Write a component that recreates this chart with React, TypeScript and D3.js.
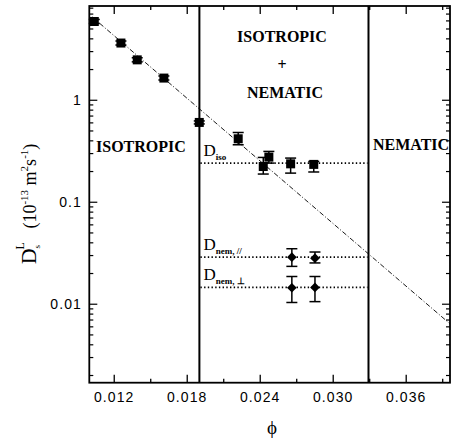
import { useEffect, useRef } from "react";
import * as d3 from "d3";

// isotropic self-diffusion (squares)
const phiIso = [0.01036, 0.01255, 0.01389, 0.01608, 0.01899, 0.02219, 0.02425, 0.02471, 0.0265, 0.0284];
const dIso = [5.92, 3.64, 2.49, 1.65, 0.606, 0.419, 0.224, 0.277, 0.238, 0.235];
const dIsoHi = [6.2, 3.81, 2.61, 1.73, 0.627, 0.483, 0.275, 0.315, 0.271, 0.251];
const dIsoLo = [5.66, 3.48, 2.38, 1.58, 0.586, 0.366, 0.189, 0.242, 0.193, 0.198];

// nematic components (diamonds)
const phiNem = [0.0266, 0.0285];
const dNemPar = [0.0289, 0.0283];
const dNemParHi = [0.035, 0.0325];
const dNemParLo = [0.0235, 0.0254];
const dNemPerp = [0.0145, 0.0146];
const dNemPerpHi = [0.0187, 0.0187];
const dNemPerpLo = [0.0104, 0.0106];

// phase boundaries and plateau levels
const phaseBounds = [0.019, 0.0329];
const plateauLevels = [0.242, 0.0289, 0.0146];

// dash-dot fit line end points
const phiFit = [0.01017, 0.03959];
const dFit = [6.59, 0.00644];

const xMajorTicks = [0.012, 0.018, 0.024, 0.03, 0.036];
const xMinorTicks = [0.015, 0.021, 0.027, 0.033, 0.039];
const xTickLabels = ["0.012", "0.018", "0.024", "0.030", "0.036"];
const yMajorTicks = [0.01, 0.1, 1];
const yTickLabels = ["0.01", "0.1", "1"];

const W = 454;
const H = 441;

const Chart = () => {
  const svgRef = useRef<SVGSVGElement>(null);

  useEffect(() => {
    if (!svgRef.current) return;
    const svg = d3.select(svgRef.current);
    svg.selectAll("*").remove();

    const left = 89.3, right = 450, top = 6, bottom = 382.7;
    const x = d3.scaleLinear().domain([0.00995, 0.0396]).range([left, right]);
    const y = d3.scaleLog().domain([0.0017, 8.4]).range([bottom, top]);

    const serif = "'Liberation Serif', 'Times New Roman', serif";
    const sans = "'Liberation Sans', Arial, sans-serif";

    // frame
    svg.append("rect")
      .attr("x", left).attr("y", top)
      .attr("width", right - left).attr("height", bottom - top)
      .attr("fill", "none").attr("stroke", "#000").attr("stroke-width", 1.8);

    // x ticks (bottom + top, inward)
    const xt = svg.append("g").attr("stroke", "#000").attr("stroke-width", 1.3);
    const xTicks = [
      ...xMajorTicks.map((v) => ({ v, len: 8 })),
      ...xMinorTicks.filter((v) => x(v) < right - 1).map((v) => ({ v, len: 4 })),
    ];
    xTicks.forEach((t) => {
      xt.append("line").attr("x1", x(t.v)).attr("x2", x(t.v)).attr("y1", bottom).attr("y2", bottom - t.len);
      xt.append("line").attr("x1", x(t.v)).attr("x2", x(t.v)).attr("y1", top).attr("y2", top + t.len);
    });

    // y ticks (left + right, inward)
    const yt = svg.append("g").attr("stroke", "#000").attr("stroke-width", 1.2);
    const [y0, y1] = y.domain();
    const minors: number[] = [];
    for (let e = -3; e <= 0; e++) {
      for (let m = 2; m <= 9; m++) {
        const v = m * Math.pow(10, e);
        if (v > y0 && v < y1) minors.push(v);
      }
    }
    const yTicks = [
      ...yMajorTicks.map((v) => ({ v, len: 8 })),
      ...minors.map((v) => ({ v, len: 4 })),
    ];
    yTicks.forEach((t) => {
      yt.append("line").attr("x1", left).attr("x2", left + t.len).attr("y1", y(t.v)).attr("y2", y(t.v));
      yt.append("line").attr("x1", right).attr("x2", right - t.len).attr("y1", y(t.v)).attr("y2", y(t.v));
    });

    // tick labels
    svg.selectAll("text.xl")
      .data(xMajorTicks)
      .join("text")
      .attr("class", "xl")
      .attr("x", (d) => x(d))
      .attr("y", 402)
      .attr("text-anchor", "middle")
      .attr("font-family", sans)
      .attr("font-size", 14)
      .attr("letter-spacing", 1.1)
      .text((_, i) => xTickLabels[i]);

    svg.selectAll("text.yl")
      .data(yMajorTicks)
      .join("text")
      .attr("class", "yl")
      .attr("x", 82)
      .attr("y", (d) => y(d))
      .attr("dy", "0.36em")
      .attr("text-anchor", "end")
      .attr("font-family", sans)
      .attr("font-size", 14)
      .attr("letter-spacing", 1.1)
      .text((_, i) => yTickLabels[i]);

    // phase boundaries
    svg.selectAll("line.bound")
      .data(phaseBounds)
      .join("line")
      .attr("class", "bound")
      .attr("x1", (d) => x(d)).attr("x2", (d) => x(d))
      .attr("y1", top).attr("y2", bottom)
      .attr("stroke", "#000").attr("stroke-width", 2);

    // plateau dotted lines
    svg.selectAll("line.plateau")
      .data(plateauLevels)
      .join("line")
      .attr("class", "plateau")
      .attr("x1", x(phaseBounds[0]) + 1).attr("x2", x(phaseBounds[1]) - 1)
      .attr("y1", (d) => y(d)).attr("y2", (d) => y(d))
      .attr("stroke", "#000").attr("stroke-width", 1.8)
      .attr("stroke-dasharray", "1.4 2.3");

    // dash-dot fit
    const line = d3.line<number>().x((d) => x(d)).y((_, i) => y(dFit[i]));
    svg.append("path")
      .attr("d", line(phiFit))
      .attr("fill", "none")
      .attr("stroke", "#000").attr("stroke-width", 0.9)
      .attr("stroke-dasharray", "5 2 1 2");

    // error bars
    const errG = svg.append("g").attr("stroke", "#000").attr("stroke-width", 1.5);
    const drawErr = (px: number, lo: number, hi: number, cap: number) => {
      errG.append("line").attr("x1", px).attr("x2", px).attr("y1", y(lo)).attr("y2", y(hi));
      errG.append("line").attr("x1", px - cap).attr("x2", px + cap).attr("y1", y(lo)).attr("y2", y(lo));
      errG.append("line").attr("x1", px - cap).attr("x2", px + cap).attr("y1", y(hi)).attr("y2", y(hi));
    };
    phiIso.forEach((p, i) => drawErr(x(p), dIsoLo[i], dIsoHi[i], 5.5));
    phiNem.forEach((p, i) => drawErr(x(p), dNemParLo[i], dNemParHi[i], 5.5));
    phiNem.forEach((p, i) => drawErr(x(p), dNemPerpLo[i], dNemPerpHi[i], 5.5));

    // squares
    const sq = 9;
    svg.selectAll("rect.iso")
      .data(phiIso)
      .join("rect")
      .attr("class", "iso")
      .attr("x", (d) => x(d) - sq / 2)
      .attr("y", (_, i) => y(dIso[i]) - sq / 2)
      .attr("width", sq).attr("height", sq)
      .attr("fill", "#000");

    // diamonds
    const diamond = d3.symbol().type(d3.symbolDiamond2).size(60);
    const nemPts = [
      ...phiNem.map((p, i) => ({ p, v: dNemPar[i] })),
      ...phiNem.map((p, i) => ({ p, v: dNemPerp[i] })),
    ];
    svg.selectAll("path.nem")
      .data(nemPts)
      .join("path")
      .attr("class", "nem")
      .attr("d", diamond)
      .attr("transform", (d) => `translate(${x(d.p)},${y(d.v)})`)
      .attr("fill", "#000");

    // phase labels
    const bold = (tx: number, ty: number, s: string, anchor = "start") =>
      svg.append("text")
        .attr("x", tx).attr("y", ty)
        .attr("text-anchor", anchor)
        .attr("font-family", serif)
        .attr("font-weight", "bold")
        .attr("font-size", 16)
        .text(s);
    bold(96, 151.5, "ISOTROPIC");
    bold(282, 41.7, "ISOTROPIC", "middle");
    bold(282, 70, "+", "middle");
    bold(285, 98.3, "NEMATIC", "middle");
    bold(373, 150, "NEMATIC");

    // D labels for plateaus
    const dLabel = (ty: number, sub: string) => {
      const t = svg.append("text")
        .attr("x", x(phaseBounds[0]) + 4).attr("y", ty)
        .attr("font-family", serif);
      t.append("tspan").attr("font-size", 17).text("D");
      t.append("tspan").attr("font-size", 9).attr("font-weight", "bold").attr("dy", 4).text(sub);
    };
    dLabel(y(plateauLevels[0]) - 7, "iso");
    dLabel(y(plateauLevels[1]) - 7.5, "nem, //");
    dLabel(y(plateauLevels[2]) - 7.5, "nem, \u22A5");

    // x title
    svg.append("text")
      .attr("x", 272).attr("y", 434)
      .attr("text-anchor", "middle")
      .attr("font-family", serif)
      .attr("font-size", 19)
      .text("\u03D5");

    // y title
    const yt2 = svg.append("text")
      .attr("transform", "translate(36,204) rotate(-90)")
      .attr("text-anchor", "middle")
      .attr("font-family", serif)
      .attr("font-size", 18);
    yt2.append("tspan").attr("font-size", 22).text("D");
    yt2.append("tspan").attr("font-size", 9).attr("dy", 4).text("s");
    yt2.append("tspan").attr("font-size", 12).attr("dx", -4.5).attr("dy", -16).text("L");
    yt2.append("tspan").attr("dy", 12).text("\u00A0\u00A0 (10");
    yt2.append("tspan").attr("font-size", 11).attr("dy", -8).text("-13");
    yt2.append("tspan").attr("dy", 8).text("\u00A0m");
    yt2.append("tspan").attr("font-size", 11).attr("dy", -8).text("2");
    yt2.append("tspan").attr("dy", 8).text("s");
    yt2.append("tspan").attr("font-size", 11).attr("dy", -8).text("-1");
    yt2.append("tspan").attr("dy", 8).text(")");
  }, []);

  return (
    <svg
      ref={svgRef}
      width={W}
      height={H}
      style={{ position: "absolute", left: 0, top: 0, background: "#fff" }}
    />
  );
};

export default function App() {
  return <Chart />;
}
